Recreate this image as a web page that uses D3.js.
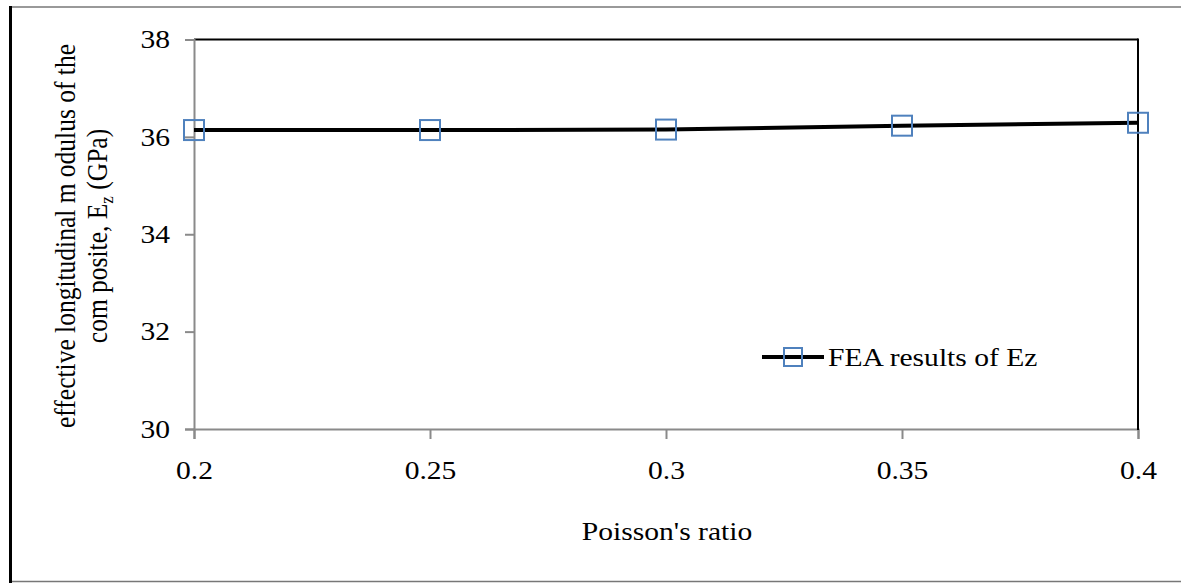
<!DOCTYPE html>
<html>
<head>
<meta charset="utf-8">
<script src="https://cdn.jsdelivr.net/npm/d3@7/dist/d3.min.js"></script>
<style>
  html, body { margin: 0; padding: 0; background: #fff; }
  svg { display: block; font-family: "Liberation Serif", "Times New Roman", serif; }
</style>
</head>
<body>
<svg id="chart" width="1181" height="583"></svg>
<script>
const poisson = [0.2, 0.25, 0.3, 0.35, 0.4];
const ezValues = [36.14, 36.14, 36.15, 36.23, 36.29];
const xTicks = [0.2, 0.25, 0.3, 0.35, 0.4];
const yTicks = [30, 32, 34, 36, 38];
const seriesName = "FEA results of Ez";

const svg = d3.select("#chart");
const W = 1181, H = 583;
const m = { left: 194, right: 1138, top: 39.5, bottom: 429 };
const FS = 25.5;   // font size
const SX = 1.16;   // horizontal stretch of glyphs

// outer frame
svg.append("line").attr("x1", 9).attr("x2", W).attr("y1", 7).attr("y2", 7)
  .attr("stroke", "#777").attr("stroke-width", 1.5);
svg.append("line").attr("x1", 9).attr("x2", W).attr("y1", 581.5).attr("y2", 581.5)
  .attr("stroke", "#777").attr("stroke-width", 1.5);
svg.append("line").attr("x1", 10.5).attr("x2", 10.5).attr("y1", 6).attr("y2", H)
  .attr("stroke", "#000").attr("stroke-width", 3);

const x = d3.scaleLinear().domain([0.2, 0.4]).range([m.left, m.right]);
const y = d3.scaleLinear().domain([30, 38]).range([m.bottom, m.top]);

// top border
svg.append("line").attr("x1", m.left).attr("x2", m.right).attr("y1", m.top).attr("y2", m.top)
  .attr("stroke", "#000").attr("stroke-width", 2);

// y axis
const yAxis = svg.append("g").attr("transform", `translate(${m.left},0)`)
  .call(d3.axisLeft(y).tickValues(yTicks).tickSize(9).tickPadding(15).tickFormat(d3.format("d")));
yAxis.select(".domain").attr("stroke", "#8a8a8a").attr("stroke-width", 2);
yAxis.selectAll(".tick line").attr("stroke", "#8a8a8a").attr("stroke-width", 2);
yAxis.selectAll(".tick text").attr("font-size", FS).attr("fill", "#000")
  .attr("font-family", "Liberation Serif, serif")
  .attr("x", -24 / SX)
  .attr("transform", `scale(${SX},1)`);

// x axis
const xAxis = svg.append("g").attr("transform", `translate(0,${m.bottom})`)
  .call(d3.axisBottom(x).tickValues(xTicks).tickSize(10).tickPadding(22).tickFormat(d => String(d)));
xAxis.select(".domain").attr("stroke", "#8a8a8a").attr("stroke-width", 2);
xAxis.selectAll(".tick line").attr("stroke", "#8a8a8a").attr("stroke-width", 2);
xAxis.selectAll(".tick text").attr("font-size", FS).attr("fill", "#000")
  .attr("font-family", "Liberation Serif, serif")
  .attr("transform", `scale(${SX},1)`);

// right border (black) on top of axis
svg.append("line").attr("x1", m.right).attr("x2", m.right).attr("y1", m.top - 1).attr("y2", m.bottom + 1)
  .attr("stroke", "#000").attr("stroke-width", 2);

// axis titles
svg.append("text").attr("transform", `translate(667,540) scale(${SX},1)`)
  .attr("text-anchor", "middle")
  .attr("font-size", FS).attr("fill", "#000").text("Poisson's ratio");

const yt = svg.append("g").attr("transform", `translate(0,236) scale(${SX},1) rotate(-90)`);
yt.append("text").attr("x", 0).attr("y", 75 / SX).attr("text-anchor", "middle")
  .attr("font-size", FS).attr("fill", "#000").text("effective longitudinal m odulus of the");
const yt2 = yt.append("text").attr("x", 0).attr("y", 107 / SX).attr("text-anchor", "middle")
  .attr("font-size", FS).attr("fill", "#000");
yt2.append("tspan").text("com posite, E");
yt2.append("tspan").attr("font-size", 17).attr("dy", 5).text("z");
yt2.append("tspan").attr("dy", -5).text(" (GPa)");

// series line
const line = d3.line().x((d, i) => x(poisson[i])).y(d => y(d));
svg.append("path").datum(ezValues).attr("d", line)
  .attr("fill", "none").attr("stroke", "#000").attr("stroke-width", 4);

// markers
const S = 20;
svg.selectAll("rect.marker").data(ezValues).enter().append("rect")
  .attr("class", "marker")
  .attr("x", (d, i) => x(poisson[i]) - S / 2)
  .attr("y", d => y(d) - S / 2)
  .attr("width", S).attr("height", S)
  .attr("fill", "none").attr("stroke", "#4F81BD").attr("stroke-width", 2);

// legend
const lg = svg.append("g").attr("transform", "translate(762,357)");
lg.append("line").attr("x1", 0).attr("x2", 62).attr("y1", 0).attr("y2", 0)
  .attr("stroke", "#000").attr("stroke-width", 4);
lg.append("rect").attr("x", 31 - 9).attr("y", -9).attr("width", 18).attr("height", 18)
  .attr("fill", "none").attr("stroke", "#4F81BD").attr("stroke-width", 2);
lg.append("text").attr("transform", `translate(66,9) scale(${SX},1)`)
  .attr("font-size", FS).attr("fill", "#000")
  .text(seriesName);
</script>
</body>
</html>
